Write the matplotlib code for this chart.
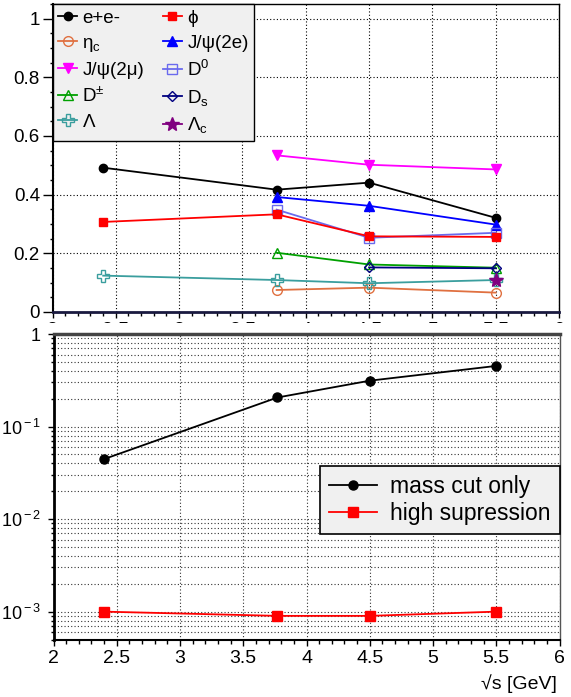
import matplotlib
matplotlib.use("Agg")
import matplotlib.pyplot as plt
from matplotlib.patches import Rectangle
from matplotlib.ticker import MultipleLocator, LogLocator, FixedLocator, NullFormatter, FormatStrFormatter

plt.rcParams['font.family'] = ['Liberation Sans', 'DejaVu Sans']
plt.rcParams['mathtext.fontset'] = 'custom'
plt.rcParams['mathtext.rm'] = 'Liberation Sans'
plt.rcParams['mathtext.it'] = 'Liberation Sans:italic'
plt.rcParams['mathtext.bf'] = 'Liberation Sans:bold'

# energies
x_all = [2.4, 3.77, 4.5, 5.5]
x_mid = [3.77, 4.5, 5.5]
x_hi = [4.5, 5.5]
x_last = [5.5]

# top panel: fraction per probe
ee = [0.492, 0.417, 0.441, 0.321]
phi = [0.307, 0.333, 0.258, 0.256]
etac = [0.075, 0.083, 0.066]
jpsi_ee = [0.392, 0.362, 0.298]
jpsi_mm = [0.534, 0.502, 0.486]
d0 = [0.349, 0.253, 0.270]
dpm = [0.202, 0.162, 0.151]
ds = [0.152, 0.149]
lam = [0.124, 0.109, 0.098, 0.109]
lamc = [0.109]

# bottom panel
mass_cut = [0.0445, 0.206, 0.313, 0.452]
high_sup = [1.0e-3, 0.9e-3, 0.9e-3, 1.0e-3]

W, H = 571, 697
fig = plt.figure(figsize=(W / 100, H / 100), dpi=100)

ax1 = fig.add_axes([52.5 / W, 1 - 312 / H, 506.5 / W, 308 / H], zorder=0)
# the lower pad hides most of the upper x labels, as in the original
cover = Rectangle((0, 0), 1, 1 - 323 / H, transform=fig.transFigure,
                  facecolor="white", edgecolor="none", zorder=1)
fig.add_artist(cover)
ax2 = fig.add_axes([53.5 / W, 1 - 639.5 / H, 506 / W, 305.5 / H], zorder=2)

lw = 1.3
ms = 6
h = {}
h["ee"], = ax1.plot(x_all, ee, color="black", marker="o", ms=ms, lw=lw, label="e+e-")
h["phi"], = ax1.plot(x_all, phi, color="#ff0000", marker="s", ms=ms, lw=lw, label="ϕ", zorder=3)
h["etac"], = ax1.plot(x_mid, etac, color="#e07040", marker="o", mfc="none", ms=ms + 1, lw=lw, label="η$_{\\rm c}$")
h["jee"], = ax1.plot(x_mid, jpsi_ee, color="#0000ff", marker="^", ms=ms + 1, lw=lw, label="J/ψ(2e)")
h["jmm"], = ax1.plot(x_mid, jpsi_mm, color="#ff00ff", marker="v", ms=ms + 1, lw=lw, label="J/ψ(2μ)")
h["d0"], = ax1.plot(x_mid, d0, color="#6a6aee", marker="s", mfc="none", ms=ms + 1, lw=lw, label="D$^{\\rm 0}$")
h["dpm"], = ax1.plot(x_mid, dpm, color="#00a000", marker="^", mfc="none", ms=ms + 1, lw=lw, label="D$^{\\pm}$")
h["ds"], = ax1.plot(x_hi, ds, color="#000080", marker="D", mfc="none", ms=ms - 1, lw=lw, label="D$_{\\rm s}$")
h["lam"], = ax1.plot(x_all, lam, color="#3a9e9e", marker="P", mfc="none", ms=ms + 2, lw=lw, label="Λ")
h["lamc"], = ax1.plot(x_last, lamc, color="#800080", marker="*", ms=ms + 4, lw=lw, label="Λ$_{\\rm c}$")

ax1.set_xlim(2, 6)
ax1.set_ylim(0, 1.05)
ax1.xaxis.set_major_locator(MultipleLocator(0.5))
ax1.xaxis.set_minor_locator(MultipleLocator(0.1))
ax1.xaxis.set_major_formatter(FormatStrFormatter("%g"))
ax1.yaxis.set_major_locator(FixedLocator([0, 0.2, 0.4, 0.6, 0.8, 1.0]))
ax1.yaxis.set_minor_locator(MultipleLocator(0.05))
ax1.set_yticklabels(["0", "0.2", "0.4", "0.6", "0.8", "1"])
ax1.grid(True, which="major", color="black", lw=0.8, ls=(0, (1, 2)))

# legend filled column by column -> order so rows read like the original
order = ["ee", "etac", "jmm", "dpm", "lam", "phi", "jee", "d0", "ds", "lamc"]
handles = [h[k] for k in order]
leg1 = ax1.legend(handles, [x.get_label() for x in handles],
                  loc="upper left", bbox_to_anchor=(0, 1), borderaxespad=0, ncol=2,
                  fontsize=13.5, handlelength=1.0, handletextpad=0.3, columnspacing=1.0,
                  labelspacing=0.42, borderpad=0.3, fancybox=False, framealpha=1,
                  facecolor="#f0f0f0", edgecolor="black")
leg1.get_frame().set_linewidth(1.0)

ax2.plot(x_all, mass_cut, color="black", marker="o", ms=6.5, lw=lw, label="mass cut only")
ax2.plot(x_all, high_sup, color="#ff0000", marker="s", ms=6.5, lw=lw, label="high supression")
ax2.set_yscale("log")
ax2.set_xlim(2, 6)
ax2.set_ylim(5e-4, 1)
ax2.xaxis.set_major_locator(MultipleLocator(0.5))
ax2.xaxis.set_minor_locator(MultipleLocator(0.1))
ax2.xaxis.set_major_formatter(FormatStrFormatter("%g"))
ax2.yaxis.set_major_locator(FixedLocator([1e-3, 1e-2, 1e-1, 1]))
ax2.set_yticklabels(["10$^{\\rm -3}$", "10$^{\\rm -2}$", "10$^{\\rm -1}$", "1"])
ax2.yaxis.set_minor_locator(LogLocator(base=10, subs=range(2, 10)))
ax2.yaxis.set_minor_formatter(NullFormatter())
ax2.grid(True, which="major", color="#333333", lw=0.8, ls=(0, (1, 2)))
ax2.grid(True, which="minor", axis="y", color="#333333", lw=0.8, ls=(0, (1, 2)))

leg2 = ax2.legend(loc="upper right", bbox_to_anchor=(1, 0.568), borderaxespad=0,
                  fontsize=16.5, handlelength=2.1, handletextpad=0.55, labelspacing=0.15,
                  borderpad=0.4, fancybox=False, framealpha=1,
                  facecolor="#f0f0f0", edgecolor="black")
leg2.get_frame().set_linewidth(1.2)

for ax in (ax1, ax2):
    ax.tick_params(which="both", direction="out", labelsize=14)
    ax.tick_params(axis="x", which="major", length=4, width=1, pad=3.5)
    ax.tick_params(axis="x", which="minor", length=2.8, width=1)
    ax.tick_params(axis="x", which="both", top=False)
    ax.tick_params(axis="y", which="both", right=False)
    ax.set_axisbelow(True)

ax1.tick_params(axis="y", which="major", length=7.5, width=1, pad=1.5, labelsize=13.5)
ax1.tick_params(axis="y", which="minor", length=2, width=1)
ax2.tick_params(axis="y", which="major", length=4, width=1, pad=5, labelsize=13)
ax2.tick_params(axis="y", which="minor", length=2, width=1)

ax1.spines["bottom"].set_linewidth(2)
ax1.spines["bottom"].set_color("#1a1a40")
ax1.spines["left"].set_linewidth(1.5)
ax1.spines["top"].set_linewidth(1.0)
ax1.spines["right"].set_linewidth(1.0)
ax2.spines["top"].set_linewidth(2.5)
ax2.spines["top"].set_color("#444444")
ax2.spines["left"].set_linewidth(2)
ax2.spines["right"].set_linewidth(1.0)
ax2.spines["right"].set_color("#555555")
ax2.spines["bottom"].set_linewidth(1.5)

fig.text(557 / W, 1 - 684 / H, "√s [GeV]", ha="right", va="center", fontsize=14)

fig.savefig("out.png", dpi=100)
